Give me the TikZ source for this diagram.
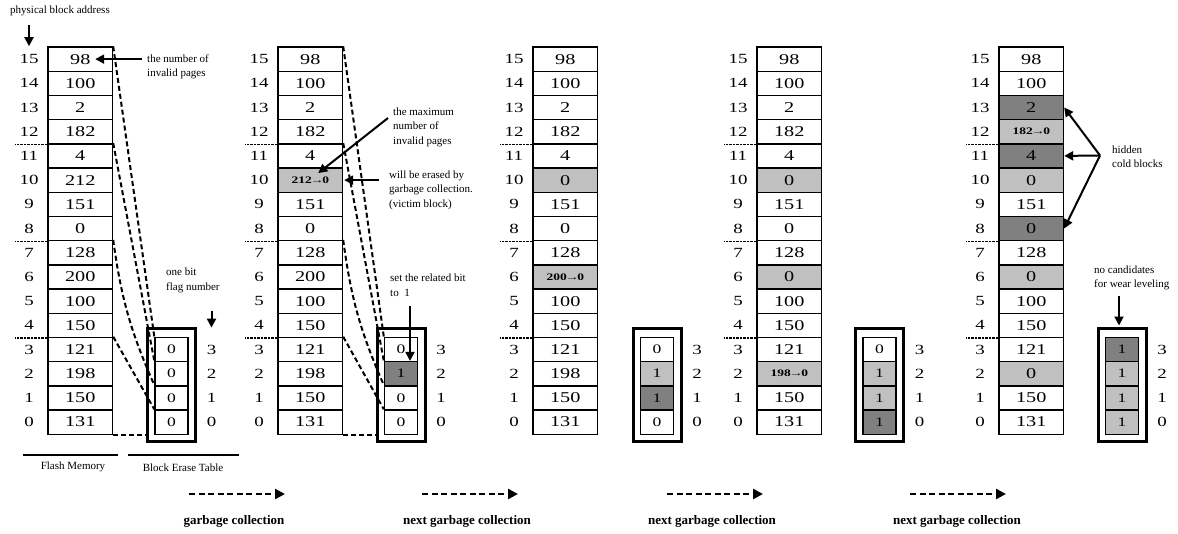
\documentclass[tikz,border=0pt]{standalone}
\usepackage{fontspec}
\setmainfont{Liberation Serif}
\newfontfamily\numfont[FakeStretch=1.35]{Liberation Serif}
\usetikzlibrary{arrows.meta,calc}
\definecolor{lg}{RGB}{192,192,192}
\definecolor{dg}{RGB}{128,128,128}
\newcommand\chg[1]{{\fontsize{10}{10}\selectfont\bfseries #1\kern-1.5pt→\kern-1.5pt0}}
\tikzset{
 cell/.style={draw, line width=1.4pt, minimum width=64.5pt, minimum height=24.2pt, inner sep=0pt, font=\numfont\fontsize{15}{15}\selectfont},
 bitcell/.style={draw, line width=1.4pt, minimum width=33pt, minimum height=24.2pt, inner sep=0pt, font=\numfont\fontsize{13}{13}\selectfont},
 lab/.style={inner sep=0pt, font=\numfont\fontsize{14}{14}\selectfont},
 obox/.style={draw, line width=3pt, minimum width=48pt, minimum height=113pt, inner sep=0pt},
 sep/.style={line width=1.6pt, dash pattern=on 2.5pt off 1pt},
 conn/.style={line width=2pt, dash pattern=on 5pt off 3pt},
 note/.style={inner sep=0pt, align=left, font=\fontsize{11}{14.5}\selectfont},
 arr/.style={line width=2pt, -{Triangle[length=9pt,width=9pt]}},
 big/.style={inner sep=0pt, font=\fontsize{13}{13}\selectfont\bfseries},
 gcarr/.style={line width=2.4pt, dash pattern=on 6pt off 3.5pt, -{Triangle[length=10pt,width=10pt]}},
 uline/.style={line width=1.6pt},
}
\newcommand\stagecol[3]{%
  \foreach \i/\val/\fil in {#3} {
    \node[cell, fill=\fil] (#1r\i) at ({#2+32.25}, {59.1+(15-\i)*24.2}) {\val};
    \node[lab] (#1l\i) at ({#2-19}, {59.1+(15-\i)*24.2}) {\i};
  }
  \foreach \k in {12,8,4} {\draw[sep] (#1r\k.south west) -- ++(-32,0);}
}
\newcommand\bitcol[3]{%
  \node[obox] (#1box) at (#2, 384.5) {};
  \foreach \i/\val/\fil in {#3} {
    \node[bitcell, fill=\fil] (#1b\i) at (#2, {59.1+(15-\i)*24.2}) {\val};
    \node[lab] (#1c\i) at ({#2+40}, {59.1+(15-\i)*24.2}) {\i};
  }
}
\begin{document}
\begin{tikzpicture}[x=1pt,y=-1pt]
\path[use as bounding box] (0,0) rectangle (1178,533);

% ---------- stage 1
\stagecol{s1}{48}{15/98/white,14/100/white,13/2/white,12/182/white,11/4/white,10/212/white,9/151/white,8/0/white,7/128/white,6/200/white,5/100/white,4/150/white,3/121/white,2/198/white,1/150/white,0/131/white}
\bitcol{s1}{171.5}{3/0/white,2/0/white,1/0/white,0/0/white}
\draw[conn] (s1r15.north east) -- (s1b3.north west);
\draw[conn] (s1r11.north east) -- (s1b2.north west);
\draw[conn] (s1r7.north east) to[bend right=8] (s1b1.north west);
\draw[conn] (s1r3.north east) -- (s1b0.north west);
\draw[conn] (s1r0.south east) -- (s1r0.south east -| s1box.west);

\node[note, anchor=west] (pba) at (10,11) {physical block address};
\draw[arr] ($(s1l15.north)+(0,-29)$) -- ($(s1l15.north)+(0,-8)$);
\node[note, anchor=west] (nip) at (147,67) {the number of\\invalid pages};
\draw[arr] ($(nip.west |- s1r15.east)+(-5,0)$) -- ($(s1r15.east)+(-18,0)$);
\node[note, anchor=west] (obf) at (166,280.5) {one bit\\flag number};
\draw[arr] ($(s1c3.north)+(0,-34)$) -- ($(s1c3.north)+(0,-17)$);

\draw[uline] (23,455) -- (118,455);
\node[note] (fm) at (73,467) {Flash Memory};
\draw[uline] (128,455) -- (239,455);
\node[note] (bet) at (183,468) {Block Erase Table};

% ---------- stage 2
\stagecol{s2}{278}{15/98/white,14/100/white,13/2/white,12/182/white,11/4/white,10/\chg{212}/lg,9/151/white,8/0/white,7/128/white,6/200/white,5/100/white,4/150/white,3/121/white,2/198/white,1/150/white,0/131/white}
\bitcol{s2}{401}{3/0/white,2/1/dg,1/0/white,0/0/white}
\draw[conn] (s2r15.north east) -- (s2b3.north west);
\draw[conn] (s2r11.north east) -- (s2b2.north west);
\draw[conn] (s2r7.north east) to[bend right=8] (s2b1.north west);
\draw[conn] (s2r3.north east) -- (s2b0.north west);
\draw[conn] (s2r0.south east) -- (s2r0.south east -| s2box.west);

\node[note, anchor=west] (mnip) at (393,127) {the maximum\\number of\\invalid pages};
\draw[arr] ($(mnip.west)+(-5,-9)$) -- ($(s2r10.center)+(8,-7)$);
\node[note, anchor=west] (wbe) at (389,190) {will be erased by\\garbage collection.\\(victim block)};
\draw[arr] ($(wbe.west |- s2r10.east)+(-10,0)$) -- ($(s2r10.east)+(1,0)$);
\node[note, anchor=west] (srb) at (390,285) {set the related bit\\to\ \ 1};
\draw[arr] ($(s2b2.north)+(9,-55)$) -- ($(s2b2.north)+(9,0)$);

% ---------- stage 3
\stagecol{s3}{533}{15/98/white,14/100/white,13/2/white,12/182/white,11/4/white,10/0/lg,9/151/white,8/0/white,7/128/white,6/\chg{200}/lg,5/100/white,4/150/white,3/121/white,2/198/white,1/150/white,0/131/white}
\bitcol{s3}{657}{3/0/white,2/1/lg,1/1/dg,0/0/white}

% ---------- stage 4
\stagecol{s4}{757}{15/98/white,14/100/white,13/2/white,12/182/white,11/4/white,10/0/lg,9/151/white,8/0/white,7/128/white,6/0/lg,5/100/white,4/150/white,3/121/white,2/\chg{198}/lg,1/150/white,0/131/white}
\bitcol{s4}{879.5}{3/0/white,2/1/lg,1/1/lg,0/1/dg}

% ---------- stage 5
\stagecol{s5}{999}{15/98/white,14/100/white,13/2/dg,12/\chg{182}/lg,11/4/dg,10/0/lg,9/151/white,8/0/dg,7/128/white,6/0/lg,5/100/white,4/150/white,3/121/white,2/0/lg,1/150/white,0/131/white}
\bitcol{s5}{1122}{3/1/dg,2/1/lg,1/1/lg,0/1/lg}
\node[note, anchor=west] (hcb) at (1112,156.5) {hidden\\cold blocks};
\coordinate (hcbS) at ($(hcb.west)+(-12,-1)$);
\draw[arr] (hcbS) -- (s5r13.east);
\draw[arr] (hcbS) -- (s5r11.east);
\draw[arr] (hcbS) -- (s5r8.east);
\node[note, anchor=west] (ncw) at (1094,278) {no candidates\\for wear leveling};
\draw[arr] ($(s5box.north)+(-3,-31)$) -- ($(s5box.north)+(-3,-1)$);

% ---------- bottom arrows
\coordinate (g1a) at (189,494); \coordinate (g1b) at (285,494);
\draw[gcarr] (g1a) -- (g1b);
\node[big] (g1) at (234,521) {garbage collection};
\coordinate (g2a) at (422,494); \coordinate (g2b) at (518,494);
\draw[gcarr] (g2a) -- (g2b);
\node[big] (g2) at (467,521) {next garbage collection};
\coordinate (g3a) at (667,494); \coordinate (g3b) at (763,494);
\draw[gcarr] (g3a) -- (g3b);
\node[big] (g3) at (712,521) {next garbage collection};
\coordinate (g4a) at (910,494); \coordinate (g4b) at (1006,494);
\draw[gcarr] (g4a) -- (g4b);
\node[big] (g4) at (957,521) {next garbage collection};
\end{tikzpicture}
\end{document}
